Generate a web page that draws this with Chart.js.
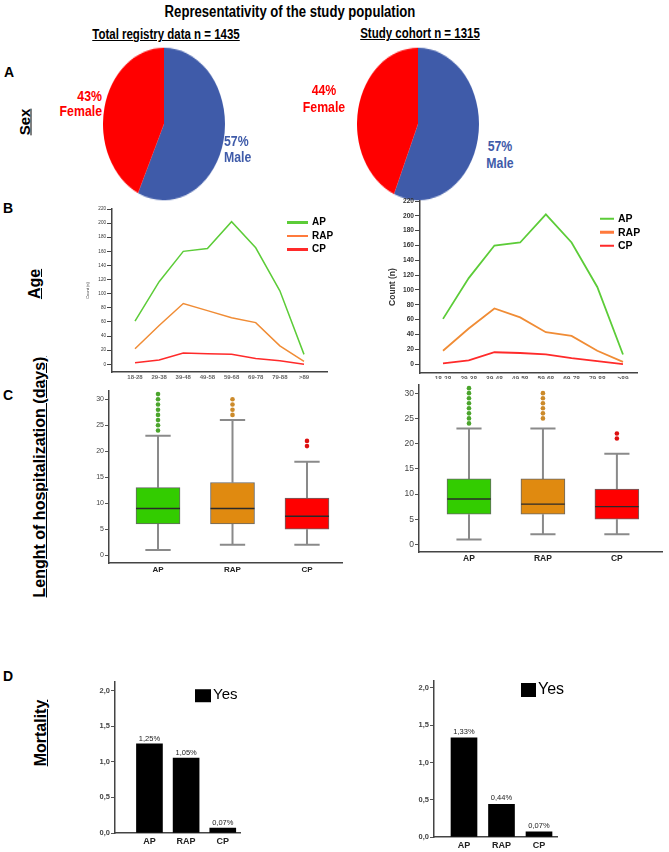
<!DOCTYPE html>
<html>
<head>
<meta charset="utf-8">
<script src="https://cdn.jsdelivr.net/npm/chart.js@4.4.0/dist/chart.umd.min.js"></script>
<style>
  body { margin: 0; background: #fff; width: 669px; height: 852px; position: relative; overflow: hidden;
         font-family: "Liberation Sans", Arial, sans-serif; }
  canvas { position: absolute; }
  .t { position: absolute; white-space: nowrap; line-height: 1; }
  .narrow { font-family: "Liberation Sans", Arial, sans-serif; font-weight: bold; }
  .side { font-weight: bold; text-decoration: underline; font-size: 16px; }
  .letter { font-weight: bold; font-size: 14px; }
  .pie { position: absolute; width: 122px; height: 122px; transform: scaleY(1.25); }
  .pie canvas { left: 0; top: 0; }
  .lg { position: absolute; font-weight: bold; white-space: nowrap; line-height: 1; }
  .lg i { display: inline-block; vertical-align: middle; margin-right: 4px; }
  .yes { position: absolute; white-space: nowrap; line-height: 1; }
  .yes i { display: inline-block; background: #000; vertical-align: middle; margin-right: 2px; }
</style>
</head>
<body>
<script>
// ---- data ----
const sexLabels = ['Male', 'Female'];
const sexTotal = [57, 43];
const sexCohort = [57, 44];
const sexColors = ['#3f5ba9', '#ff0000'];

const ageGroups = ['18-28', '29-38', '39-48', '49-58', '59-68', '69-78', '79-88', '>89'];
const apTotal = [61, 117, 160, 164, 202, 165, 104, 14];
const rapTotal = [22, 55, 86, 76, 66, 59, 26, 4];
const cpTotal = [2, 6, 16, 15, 14, 8, 5, 0];
const apCohort = [61, 116, 160, 164, 202, 164, 104, 13];
const rapCohort = [18, 48, 75, 63, 43, 38, 18, 3];
const cpCohort = [1, 5, 16, 15, 13, 8, 4, 0];
const countTicks = [0, 20, 40, 60, 80, 100, 120, 140, 160, 180, 200, 220];
const typeNames = ['AP', 'RAP', 'CP'];
const lineColors = ['#5ccc38', '#f08c35', '#ff2a2a'];
const legendColors = ['#5ccc38', '#ff7a3c', '#ff2a2a'];

// length of stay boxplots (days)
const loTotal = [1, 2, 2];
const q1Total = [6, 6, 5];
const medTotal = [9, 9, 7.5];
const q3Total = [13, 14, 11];
const hiTotal = [23, 26, 18];
const outTotal = [[24, 25, 26, 27, 28, 29, 30, 31], [27, 28, 29, 30], [21, 22]];
const loCohort = [1, 2, 2];
const q1Cohort = [6, 6, 5];
const medCohort = [9, 8, 7.5];
const q3Cohort = [13, 13, 11];
const hiCohort = [23, 23, 18];
const outCohort = [[24, 25, 26, 27, 28, 29, 30, 31], [25, 26, 27, 28, 29, 30], [21, 22]];
const stayTicks = [0, 5, 10, 15, 20, 25, 30];
const boxColors = ['#33cc00', '#e08a10', '#ff0000'];
const outColors = ['#4ba52c', '#cc8a2a', '#dd1111'];

// mortality (%)
const mortTotal = [1.25, 1.05, 0.07];
const mortCohort = [1.33, 0.44, 0.07];
const mortTicks = [0, 0.5, 1, 1.5, 2];

// ---- helpers ----
const FONT = '"Liberation Sans", Arial, sans-serif';
const NARROW = 0.82; // figure uses a condensed face
Chart.defaults.font.family = FONT;
Chart.defaults.color = '#333';

function txt(str, x, y, cls, css, anchor) {
  const d = document.createElement('div');
  d.className = 't ' + (cls || '');
  d.textContent = str;
  d.style.left = x + 'px';
  d.style.top = y + 'px';
  const ax = anchor === 'right' ? '-100%' : anchor === 'left' ? '0' : '-50%';
  const ox = anchor === 'right' ? '100%' : anchor === 'left' ? '0' : '50%';
  let tf = 'translate(' + ax + ',-50%)';
  if (css && css.rot) tf += ' rotate(-90deg)';
  if ((cls || '').includes('narrow')) { tf += ' scaleX(' + NARROW + ')'; d.style.transformOrigin = ox + ' 50%'; }
  d.style.transform = tf;
  if (css) Object.assign(d.style, css.style || {});
  document.body.appendChild(d);
  return d;
}

function makeCanvas(box, parent) {
  const c = document.createElement('canvas');
  c.width = box.w; c.height = box.h;
  c.style.width = box.w + 'px'; c.style.height = box.h + 'px';
  c.style.left = box.x + 'px'; c.style.top = box.y + 'px';
  (parent || document.body).appendChild(c);
  return c;
}

// fixes the plot area inside the canvas so axes land where they are in the figure
function frame(box, area) {
  return {
    padding: { left: 0, top: area.t - box.y, right: box.x + box.w - area.r, bottom: 0 },
    yWidth: area.l - box.x,
    xHeight: box.y + box.h - area.b
  };
}

const base = { responsive: false, animation: false, devicePixelRatio: 1,
  plugins: { legend: { display: false }, tooltip: { enabled: false } } };

// ---- titles and side labels ----
txt('Representativity of the study population', 290, 12, 'narrow', { style: { fontSize: '16px' } });
txt('Total registry data n = 1435', 166, 34, 'narrow', { style: { fontSize: '14px', textDecoration: 'underline' } });
txt('Study cohort n = 1315', 420, 33, 'narrow', { style: { fontSize: '14px', textDecoration: 'underline' } });
txt('A', 9, 72, 'letter');
txt('B', 8, 208, 'letter');
txt('C', 8, 395, 'letter');
txt('D', 8, 676, 'letter');
txt('Sex', 24, 122, 'side', { rot: true, style: { fontSize: '15px' } });
txt('Age', 35, 284, 'side', { rot: true });
txt('Lenght of hospitalization (days)', 40, 477, 'side', { rot: true });
txt('Mortality', 41, 733, 'side', { rot: true });

// ---- A: sex pies ----
function pie(cx, cy, values) {
  const wrap = document.createElement('div');
  wrap.className = 'pie';
  wrap.style.left = (cx - 61) + 'px';
  wrap.style.top = (cy - 61) + 'px';
  document.body.appendChild(wrap);
  const c = makeCanvas({ x: 0, y: 0, w: 122, h: 122 }, wrap);
  new Chart(c, {
    type: 'pie',
    data: { labels: sexLabels, datasets: [{ data: values, backgroundColor: sexColors, borderWidth: 0 }] },
    options: Object.assign({}, base, { layout: { padding: 0 } })
  });
}
pie(164, 124, sexTotal);
pie(418, 124, sexCohort);

const pieFont = { fontSize: '15px' };
txt(sexTotal[1] + '%', 102, 95, 'narrow', { style: Object.assign({ color: sexColors[1] }, pieFont) }, 'right');
txt(sexLabels[1], 102, 110, 'narrow', { style: Object.assign({ color: sexColors[1] }, pieFont) }, 'right');
txt(sexTotal[0] + '%', 224, 140, 'narrow', { style: Object.assign({ color: sexColors[0] }, pieFont) }, 'left');
txt(sexLabels[0], 224, 156, 'narrow', { style: Object.assign({ color: sexColors[0] }, pieFont) }, 'left');
txt(sexCohort[1] + '%', 324, 89, 'narrow', { style: Object.assign({ color: sexColors[1] }, pieFont) });
txt(sexLabels[1], 324, 106, 'narrow', { style: Object.assign({ color: sexColors[1] }, pieFont) });
txt(sexCohort[0] + '%', 500, 145, 'narrow', { style: Object.assign({ color: sexColors[0] }, pieFont) });
txt(sexLabels[0], 500, 162, 'narrow', { style: Object.assign({ color: sexColors[0] }, pieFont) });

// ---- B: age line charts ----
function ageChart(box, area, xr, ymin, series, st) {
  const f = frame(box, area);
  new Chart(makeCanvas(box), {
    type: 'line',
    data: { datasets: series.map((s, k) => ({
      data: s.map((v, i) => ({ x: i, y: v })),
      borderColor: lineColors[k], borderWidth: st.lw, pointRadius: 0, tension: 0
    })) },
    options: Object.assign({}, base, {
      layout: { padding: f.padding, autoPadding: false },
      scales: {
        x: {
          type: 'linear', min: xr[0], max: xr[1],
          afterFit: s => { s.height = f.xHeight; },
          afterBuildTicks: s => { s.ticks = ageGroups.map((g, i) => ({ value: i })); },
          ticks: { callback: v => ageGroups[v], font: { size: st.xf, weight: 'bold' }, color: '#666',
                   padding: st.xp, maxRotation: 0, autoSkip: false },
          grid: { display: false, drawTicks: false },
          border: { color: '#444', width: 1.5 }
        },
        y: {
          min: ymin, max: 220,
          afterFit: s => { s.width = f.yWidth; },
          afterBuildTicks: s => { s.ticks = countTicks.map(v => ({ value: v })); },
          ticks: { font: { size: st.yf, weight: st.yw }, color: '#333', padding: 1 },
          grid: { drawOnChartArea: false, tickLength: st.tl, color: '#444' },
          border: { color: '#444', width: 1.5 },
          title: { display: true, text: 'Count (n)', font: { size: st.tf, weight: st.yw }, color: '#333', padding: 0 }
        }
      }
    })
  });
}
ageChart({ x: 85, y: 202, w: 247, h: 182 }, { l: 112, t: 209, r: 327, b: 372 }, [-0.953, 7.953], -11,
  [apTotal, rapTotal, cpTotal], { lw: 1.5, xf: 6, xp: 1.5, yf: 4.6, yw: 'normal', tl: 5, tf: 4 });
ageChart({ x: 388, y: 195, w: 254, h: 184 }, { l: 420, t: 201, r: 637, b: 373 }, [-0.895, 7.545], -12,
  [apCohort, rapCohort, cpCohort], { lw: 1.8, xf: 6.5, xp: 2.5, yf: 6.6, yw: 'bold', tl: 5, tf: 8.5 });

function lineLegend(x, y, step, size, len) {
  typeNames.forEach((n, k) => {
    const d = document.createElement('div');
    d.className = 'lg';
    d.style.left = x + 'px';
    d.style.top = (y + k * step) + 'px';
    d.style.fontSize = size + 'px';
    d.style.transform = 'translateY(-50%)';
    d.innerHTML = '<i style="width:' + len + 'px;height:2.5px;background:' + legendColors[k] + '"></i>' + n;
    document.body.appendChild(d);
  });
}
lineLegend(287, 222, 13.5, 10, 21);
lineLegend(600, 218, 13.5, 10.5, 14);

// ---- C: boxplots ----
const capHalf = 0.17, boxHalf = 0.295;
function boxChart(box, area, xr, lo, q1, med, q3, hi, outs, st) {
  const f = frame(box, area);
  const whisk = [];
  const meds = [];
  lo.forEach((v, i) => {
    whisk.push({ x: i, y: q3[i] }, { x: i, y: hi[i] }, { x: i, y: null },
               { x: i - capHalf, y: hi[i] }, { x: i + capHalf, y: hi[i] }, { x: i, y: null },
               { x: i, y: q1[i] }, { x: i, y: lo[i] }, { x: i, y: null },
               { x: i - capHalf, y: lo[i] }, { x: i + capHalf, y: lo[i] }, { x: i, y: null });
    meds.push({ x: i - boxHalf, y: med[i] }, { x: i + boxHalf, y: med[i] }, { x: i, y: null });
  });
  const outPts = outs.flatMap((arr, i) => arr.map(v => ({ x: i, y: v })));
  const outCol = outs.flatMap((arr, i) => arr.map(() => outColors[i]));
  new Chart(makeCanvas(box), {
    type: 'bar',
    data: { datasets: [
      { type: 'scatter', data: outPts, pointRadius: 2.3, pointBackgroundColor: outCol, pointBorderWidth: 0, order: 0 },
      { type: 'line', data: meds, borderColor: '#2a2a2a', borderWidth: 1.4, pointRadius: 0, spanGaps: false, order: 1 },
      { type: 'bar', data: typeNames.map((n, i) => ({ x: i, y: [q1[i], q3[i]] })), backgroundColor: boxColors,
        borderColor: '#666', borderWidth: 1, borderSkipped: false, barThickness: 44, order: 2 },
      { type: 'line', data: whisk, borderColor: '#8a8a8a', borderWidth: 2, pointRadius: 0, spanGaps: false, order: 3 }
    ] },
    options: Object.assign({}, base, {
      layout: { padding: f.padding, autoPadding: false },
      scales: {
        x: {
          type: 'linear', min: xr[0], max: xr[1], offset: false,
          afterFit: s => { s.height = f.xHeight; },
          afterBuildTicks: s => { s.ticks = typeNames.map((n, i) => ({ value: i })); },
          ticks: { callback: v => typeNames[v], font: { size: st.xf, weight: 'bold' }, color: '#222',
                   padding: st.xp, maxRotation: 0, autoSkip: false },
          grid: { display: false, drawTicks: false },
          border: { color: '#444', width: 1.5 }
        },
        y: {
          min: -1.5, max: 31.6,
          afterFit: s => { s.width = f.yWidth; },
          afterBuildTicks: s => { s.ticks = stayTicks.map(v => ({ value: v })); },
          ticks: { font: { size: st.yf }, color: '#444', padding: 1 },
          grid: { drawOnChartArea: false, tickLength: 4, color: '#555' },
          border: { color: '#444', width: 1.5 }
        }
      }
    })
  });
}
boxChart({ x: 80, y: 385, w: 267, h: 195 }, { l: 109, t: 391, r: 342, b: 563 }, [-0.658, 2.47],
  loTotal, q1Total, medTotal, q3Total, hiTotal, outTotal, { xf: 8, xp: 1.5, yf: 7 });
boxChart({ x: 385, y: 379, w: 282, h: 190 }, { l: 419, t: 382, r: 662, b: 552 }, [-0.676, 2.61],
  loCohort, q1Cohort, medCohort, q3Cohort, hiCohort, outCohort, { xf: 8.5, xp: 1.5, yf: 8.5 });

// ---- D: mortality bars ----
const valueLabels = {
  id: 'valueLabels',
  afterDatasetsDraw(chart, args, opts) {
    const ctx = chart.ctx;
    const ds = chart.data.datasets[0];
    ctx.save();
    ctx.font = opts.size + 'px ' + FONT;
    ctx.fillStyle = '#222';
    ctx.textAlign = 'center';
    ctx.textBaseline = 'middle';
    chart.getDatasetMeta(0).data.forEach((bar, i) => {
      const v = ds.data[i].y;
      ctx.fillText(v.toFixed(2).replace('.', ',') + '%', bar.x, bar.y - opts.gap);
    });
    ctx.restore();
  }
};
function mortChart(box, area, xr, ymax, values, st) {
  const f = frame(box, area);
  new Chart(makeCanvas(box), {
    type: 'bar',
    data: { datasets: [{ data: values.map((v, i) => ({ x: i, y: v })), backgroundColor: '#000',
                         barThickness: 26 }] },
    plugins: [valueLabels],
    options: Object.assign({}, base, {
      layout: { padding: f.padding, autoPadding: false },
      plugins: { legend: { display: false }, tooltip: { enabled: false },
                 valueLabels: { size: 7.5, gap: st.gap } },
      scales: {
        x: {
          type: 'linear', min: xr[0], max: xr[1], offset: false,
          afterFit: s => { s.height = f.xHeight; },
          afterBuildTicks: s => { s.ticks = typeNames.map((n, i) => ({ value: i })); },
          ticks: { callback: v => typeNames[v], font: { size: 9, weight: 'bold' }, color: '#222',
                   padding: st.xp, maxRotation: 0, autoSkip: false },
          grid: { display: false, drawTicks: false },
          border: { color: '#444', width: 1.5 }
        },
        y: {
          min: 0, max: ymax,
          afterFit: s => { s.width = f.yWidth; },
          afterBuildTicks: s => { s.ticks = mortTicks.map(v => ({ value: v })); },
          ticks: { callback: v => v.toFixed(1).replace('.', ','), font: { size: 7.5, weight: 'bold' },
                   color: '#444', padding: 1 },
          grid: { drawOnChartArea: false, tickLength: 4, color: '#555' },
          border: { color: '#444', width: 1.5 }
        }
      }
    })
  });
}
mortChart({ x: 85, y: 676, w: 160, h: 176 }, { l: 115, t: 681, r: 240, b: 833 }, [-0.94, 2.47], 2.126,
  mortTotal, { gap: 5, xp: 3 });
mortChart({ x: 405, y: 675, w: 157, h: 177 }, { l: 434, t: 679, r: 557, b: 837 }, [-0.8, 2.48], 2.1,
  mortCohort, { gap: 6, xp: 3.5 });

function yesLegend(x, y, bw, bh, size) {
  const d = document.createElement('div');
  d.className = 'yes';
  d.style.left = x + 'px';
  d.style.top = y + 'px';
  d.style.fontSize = size + 'px';
  d.style.transform = 'translateY(-50%)';
  d.innerHTML = '<i style="width:' + bw + 'px;height:' + bh + 'px"></i>Yes';
  document.body.appendChild(d);
}
yesLegend(195, 694, 16, 13, 15);
yesLegend(521, 689, 15, 14, 16);
</script>
</body>
</html>
